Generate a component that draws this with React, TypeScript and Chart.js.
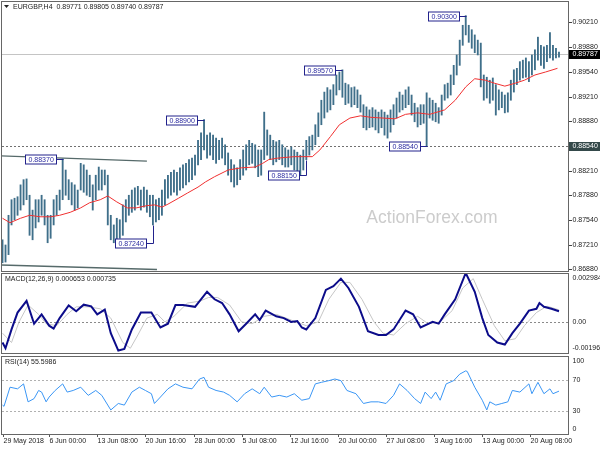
import { useEffect, useRef } from 'react';
import { Chart, registerables } from 'chart.js';

Chart.register(...registerables);

const FAMILY = '"Liberation Sans", Arial, Helvetica, sans-serif';
const SMALL = `7px ${FAMILY}`;

// ---------------- data ----------------
const symbolTitle = 'EURGBP,H4';
const lastBar = [0.89771, 0.89805, 0.8974, 0.89787]; // open high low close

// 8-hour price bars (high / low)
const barHigh = [
  0.8728, 0.8721, 0.8761, 0.8782, 0.8784, 0.8786, 0.8802, 0.8809, 0.881, 0.8788,
  0.8768, 0.8782, 0.8782, 0.8788, 0.8782, 0.8761, 0.8761, 0.8782, 0.8788, 0.8795,
  0.8837, 0.8822, 0.8809, 0.8805, 0.8802, 0.8795, 0.8831, 0.8829, 0.8822, 0.8815,
  0.8802, 0.8815, 0.8826, 0.8822, 0.8822, 0.8815, 0.8761, 0.8748, 0.8757, 0.8755,
  0.8775, 0.8782, 0.8788, 0.8795, 0.8798, 0.88, 0.8795, 0.8799, 0.8795, 0.8788,
  0.8788, 0.8782, 0.8784, 0.8795, 0.8809, 0.8815, 0.8819, 0.8822, 0.8819, 0.8825,
  0.8829, 0.8831, 0.8836, 0.8838, 0.8842, 0.8862, 0.8872, 0.889, 0.8869, 0.8872,
  0.8869, 0.8865, 0.8862, 0.8865, 0.8856, 0.8845, 0.8836, 0.8829, 0.8825, 0.8836,
  0.8849, 0.8856, 0.8862, 0.8858, 0.8856, 0.8849, 0.8849, 0.89, 0.8876, 0.8869,
  0.8862, 0.886, 0.8862, 0.8856, 0.8852, 0.8849, 0.8853, 0.8849, 0.8846, 0.8842,
  0.8849, 0.8862, 0.8867, 0.8869, 0.8883, 0.8899, 0.8916, 0.8927, 0.8933, 0.893,
  0.8937, 0.895, 0.8954, 0.8957, 0.8939, 0.8937, 0.8933, 0.8934, 0.893, 0.8923,
  0.891, 0.8907, 0.8903, 0.8906, 0.8903, 0.89, 0.8903, 0.89, 0.8896, 0.8903,
  0.891, 0.8919, 0.8927, 0.8923, 0.893, 0.8934, 0.8923, 0.8912, 0.8906, 0.891,
  0.891, 0.8926, 0.8919, 0.8916, 0.8912, 0.8906, 0.8923, 0.8937, 0.8939, 0.895,
  0.8963, 0.8977, 0.8997, 0.9017, 0.903, 0.9017, 0.9011, 0.9004, 0.8997, 0.8993,
  0.895, 0.8947, 0.8943, 0.8946, 0.8937, 0.893, 0.8927, 0.8923, 0.8926, 0.8943,
  0.8957, 0.8959, 0.8968, 0.897, 0.8973, 0.8968, 0.8977, 0.8984, 0.9001, 0.899,
  0.8988, 0.899, 0.9007, 0.899, 0.8986, 0.8981,
];
const barLow = [
  0.8697, 0.8698, 0.8708, 0.8748, 0.8755, 0.8761, 0.8768, 0.8775, 0.8782, 0.8734,
  0.8728, 0.8744, 0.8752, 0.8761, 0.8748, 0.8724, 0.873, 0.8748, 0.8761, 0.8768,
  0.8782, 0.8788, 0.8782, 0.8775, 0.8768, 0.8771, 0.8795, 0.8792, 0.8788, 0.8786,
  0.8768, 0.8782, 0.8795, 0.8795, 0.8802, 0.8748, 0.8728, 0.8724, 0.8728, 0.873,
  0.8734, 0.8752, 0.8761, 0.8765, 0.8768, 0.8775, 0.8768, 0.8772, 0.8765, 0.8759,
  0.8748, 0.8752, 0.8755, 0.8761, 0.8775, 0.8784, 0.8788, 0.8792, 0.8788, 0.8795,
  0.8798, 0.8802, 0.8806, 0.8809, 0.8815, 0.8829, 0.8836, 0.8849, 0.8838, 0.8842,
  0.8836, 0.8831, 0.8836, 0.8838, 0.8829, 0.8815, 0.8806, 0.8799, 0.8802, 0.8809,
  0.8815, 0.8822, 0.8829, 0.8831, 0.8825, 0.8813, 0.8815, 0.8836, 0.8842, 0.8836,
  0.8829, 0.8833, 0.8836, 0.8829, 0.8826, 0.8826, 0.8829, 0.8822, 0.8819, 0.8815,
  0.8822, 0.8836, 0.8842, 0.8849, 0.8856, 0.8867, 0.8883, 0.8892, 0.89, 0.8903,
  0.891, 0.8923, 0.893, 0.892, 0.891, 0.8912, 0.8907, 0.891, 0.8906, 0.89,
  0.8879, 0.8876, 0.8879, 0.888, 0.8876, 0.8872, 0.8879, 0.8869, 0.8865, 0.8873,
  0.8883, 0.8892, 0.89, 0.8903, 0.8906, 0.891, 0.8896, 0.8887, 0.888, 0.8883,
  0.8885, 0.8854, 0.8892, 0.8889, 0.8887, 0.8885, 0.8896, 0.8916, 0.8919, 0.8923,
  0.8937, 0.895, 0.8963, 0.899, 0.9004, 0.8994, 0.8986, 0.898, 0.8977, 0.8934,
  0.8916, 0.8919, 0.8912, 0.8916, 0.8896, 0.8903, 0.8906, 0.8899, 0.89, 0.8916,
  0.8927, 0.8937, 0.8943, 0.8946, 0.8947, 0.8941, 0.895, 0.8957, 0.897, 0.8963,
  0.8959, 0.8968, 0.8973, 0.897, 0.8973, 0.8974,
];

// moving average [bar index, price]
const maLine = [
  [0, 0.8757], [5, 0.8751], [12, 0.8757], [18, 0.8761], [25, 0.8759], [32, 0.8759],
  [38, 0.8761], [45, 0.8765], [52, 0.8771], [58, 0.8778], [65, 0.8782], [70, 0.8787],
  [76, 0.8779], [83, 0.8771], [89, 0.8771], [96, 0.8774], [101, 0.8775], [106, 0.8772],
  [110, 0.8776], [117, 0.8784], [123, 0.8791], [130, 0.8799], [135, 0.8806], [141, 0.8813],
  [150, 0.8822], [159, 0.8825], [168, 0.8826], [173, 0.8831], [177, 0.8836], [183, 0.8838],
  [194, 0.884], [200, 0.884], [206, 0.884], [211, 0.8849], [218, 0.8867], [224, 0.8883],
  [231, 0.8892], [238, 0.8895], [245, 0.8893], [253, 0.8892], [261, 0.8891], [268, 0.8897],
  [276, 0.8899], [284, 0.8897], [294, 0.8903], [301, 0.8916], [308, 0.8934], [314, 0.8945],
  [321, 0.8943], [327, 0.8939], [334, 0.8935], [341, 0.8939], [347, 0.8943], [354, 0.895],
  [361, 0.8954], [369, 0.8959],
];

// MACD main line [bar index, value]
const macdMain = [
  [0, -0.00126], [2, -0.00161], [6, -0.00046], [10, 0.00057], [16, 0.00128], [21, -0.00011],
  [26, 0.00046], [31, -0.00023], [34, -0.00041], [38, 0.00023], [44, 0.001], [49, 0.00065],
  [54, 0.00105], [59, 0.00095], [63, 0.00046], [68, 0.00075], [72, -0.00069], [77, -0.00175],
  [81, -0.00165], [86, -0.00046], [92, 0.00057], [99, 0.00057], [105, -0.00034], [110, -0.00011],
  [115, 0.00103], [120, 0.00103], [128, 0.00092], [136, 0.00184], [141, 0.00138], [146, 0.00115],
  [151, 0.00046], [157, -0.00057], [162, -0.00011], [168, 0.00046], [171, 0.00011], [175, 0.00069],
  [182, 0.00034], [187, 0.00023], [192, 0], [196, 0.00005], [199, -0.00034], [202, -0.00046],
  [204, -0.00023], [208, 0.00023], [215, 0.00195], [220, 0.00218], [225, 0.00264], [230, 0.00207],
  [237, 0.00092], [243, -0.00057], [250, -0.0008], [255, -0.0008], [260, -0.00046], [268, 0.00069],
  [273, 0.00046], [278, -0.00034], [286, 0], [290, -0.00011], [294, 0.00046], [301, 0.00138],
  [308, 0.002984], [314, 0.00184], [319, 0.00023], [323, -0.0008], [329, -0.00126], [334, -0.00138],
  [339, -0.00069], [344, -0.00011], [350, 0.00069], [355, 0.0008], [357, 0.00115], [360, 0.00092],
  [365, 0.0008], [370, 0.000653],
];

// MACD signal line [bar index, value]
const macdSignal = [
  [0, -0.00069], [6, -0.00126], [11, 0], [17, 0.00103], [24, 0.00046], [29, -0.00011],
  [36, -0.00023], [43, 0.00046], [49, 0.00092], [57, 0.00092], [65, 0.0008], [72, 0.00023],
  [80, -0.00126], [85, -0.00161], [90, -0.0008], [96, 0.00023], [103, 0.00046], [108, 0],
  [114, 0.00034], [123, 0.00115], [131, 0.00126], [137, 0.00149], [143, 0.00149], [151, 0.00103],
  [159, 0], [166, -0.00011], [174, 0.00034], [182, 0.00046], [192, 0.00011], [202, -0.00023],
  [210, 0], [217, 0.00138], [225, 0.00241], [231, 0.00241], [239, 0.00138], [247, 0],
  [253, -0.00069], [260, -0.0008], [268, -0.00011], [276, 0.00034], [283, -0.00011], [291, 0],
  [299, 0.00069], [306, 0.00207], [313, 0.00264], [319, 0.00138], [327, -0.00023], [334, -0.00115],
  [341, -0.00103], [347, -0.00023], [355, 0.00057], [362, 0.00096], [370, 0.000735],
];

// RSI(14) [bar index, value]
const rsiLine = [
  [0, 37.6], [1, 36], [5, 60.7], [10, 58.6], [14, 65], [17, 41.8], [21, 46], [24, 56.5],
  [26, 54.4], [29, 41.8], [31, 48], [35, 56.5], [40, 65], [43, 54.4], [47, 56.5], [52, 60.7],
  [57, 50.2], [62, 56.5], [66, 50.2], [72, 31.3], [77, 39.7], [81, 37.6], [86, 54.4], [91, 60.7],
  [95, 56.5], [99, 52.3], [101, 39.7], [105, 48], [110, 58.6], [115, 65], [120, 60.7], [126, 58.6],
  [131, 71.3], [134, 73.4], [137, 60.7], [142, 56.5], [147, 54.4], [151, 50.2], [156, 41.8],
  [161, 52.3], [166, 58.6], [171, 52.3], [174, 60.7], [179, 48], [184, 50.2], [189, 48],
  [194, 52.3], [199, 43.9], [204, 46], [208, 65], [212, 67], [217, 69.2], [221, 71.3],
  [225, 69.2], [229, 56.5], [235, 52.3], [240, 39.7], [245, 41.8], [250, 41.8], [255, 39.7],
  [260, 50.2], [264, 65], [269, 56.5], [274, 46], [278, 39.7], [281, 54.4], [285, 46],
  [288, 54.4], [291, 43.9], [295, 65], [300, 69.2], [304, 77.6], [308, 81.8], [309, 81],
  [314, 60.7], [319, 43.9], [322, 31.3], [324, 41.8], [328, 37.6], [332, 39.7], [336, 41.8],
  [339, 56.5], [344, 54.4], [350, 65], [352, 52.3], [356, 67], [360, 52.3], [364, 58.6],
  [366, 52.3], [370, 55.6],
];

const priceTicks = [0.9021, 0.8988, 0.8954, 0.8921, 0.8888, 0.8821, 0.8788, 0.8754, 0.8721, 0.8688];
const macdTicks = [0.002984, 0, -0.00196];
const macdTickText = ['0.002984', '0.00', '-0.00196'];
const rsiTicks = [100, 70, 30, 0];
const rsiLevels = [70, 30];
const dateTickIdx = [0, 31, 63, 95, 127, 159, 191, 223, 255, 287, 319, 351];
const dateTickText = [
  '29 May 2018', '6 Jun 00:00', '13 Jun 08:00', '20 Jun 16:00', '28 Jun 00:00', '5 Jul 08:00',
  '12 Jul 16:00', '20 Jul 00:00', '27 Jul 08:00', '3 Aug 16:00', '13 Aug 00:00', '20 Aug 08:00',
];

// swing labels
const calloutPrice = [0.903, 0.8957, 0.889, 0.8837, 0.8724, 0.8815, 0.8854];
const calloutIdx = [308, 226, 134, 40, 100, 202, 282];
const calloutReach = [0.903, 0.8957, 0.889, 0.8837, 0.8748, 0.8836, 0.8854];
const supportLevel = 0.8854;
const channelUpper = [[-1, 0.8841], [96, 0.8834]];
const channelLower = [[-1, 0.8694], [102.7, 0.8688]];

const macdTitle = 'MACD(12,26,9)';
const macdNow = [0.000653, 0.000735];
const rsiTitle = 'RSI(14)';
const rsiNow = 55.5986;
const watermark = 'ActionForex.com';

// ---------------- helpers ----------------
const X_MIN = -1;
const X_MAX = 376.66;

function baseOptions(yMin: number, yMax: number, padding: any): any {
  return {
    animation: false,
    responsive: false,
    maintainAspectRatio: false,
    events: [],
    layout: { padding },
    plugins: { legend: { display: false }, tooltip: { enabled: false } },
    scales: {
      x: { type: 'linear', min: X_MIN, max: X_MAX, display: false, offset: false },
      y: { type: 'linear', min: yMin, max: yMax, display: false },
    },
  };
}

function drawFrame(chart: any) {
  const { ctx, chartArea: a } = chart;
  ctx.save();
  ctx.strokeStyle = '#666';
  ctx.lineWidth = 1;
  ctx.strokeRect(a.left + 0.5, a.top + 0.5, a.right - a.left - 1, a.bottom - a.top - 1);
  ctx.restore();
}

function hLine(ctx: any, a: any, yy: number, color: string, dash: number[]) {
  const py = Math.round(yy) + 0.5;
  ctx.save();
  ctx.strokeStyle = color;
  ctx.lineWidth = 1;
  ctx.setLineDash(dash);
  ctx.beginPath();
  ctx.moveTo(a.left + 1, py);
  ctx.lineTo(a.right - 1, py);
  ctx.stroke();
  ctx.restore();
}

function clampedLabels(chart: any, values: number[], texts: string[]) {
  const { ctx, chartArea: a, scales } = chart;
  ctx.save();
  ctx.font = SMALL;
  ctx.fillStyle = '#222';
  ctx.textAlign = 'left';
  ctx.textBaseline = 'middle';
  values.forEach((v, i) => {
    let yy = scales.y.getPixelForValue(v);
    yy = Math.min(Math.max(yy, a.top + 5), a.bottom - 6);
    ctx.fillText(texts[i], a.right + 3.5, yy);
  });
  ctx.restore();
}

function panelTitle(chart: any, text: string) {
  const { ctx, chartArea: a } = chart;
  ctx.save();
  ctx.font = SMALL;
  ctx.fillStyle = '#222';
  ctx.textAlign = 'left';
  ctx.textBaseline = 'middle';
  ctx.fillText(text, a.left + 4, a.top + 6);
  ctx.restore();
}

// ---------------- plugins ----------------
const mainPlugin = {
  id: 'mainDecor',
  beforeDatasetsDraw(chart: any) {
    const { ctx, chartArea: a, scales } = chart;
    const x = scales.x;
    const y = scales.y;
    ctx.save();
    ctx.beginPath();
    ctx.rect(a.left, a.top, a.right - a.left, a.bottom - a.top);
    ctx.clip();
    ctx.font = `17.5px ${FAMILY}`;
    ctx.fillStyle = '#cccccc';
    ctx.textAlign = 'center';
    ctx.textBaseline = 'alphabetic';
    ctx.fillText(watermark, 432, 223);
    hLine(ctx, a, y.getPixelForValue(lastBar[3]), '#c4c4c4', []);
    hLine(ctx, a, y.getPixelForValue(supportLevel), '#707070', [2, 2]);
    ctx.strokeStyle = '#566a6a';
    ctx.lineWidth = 1.3;
    [channelUpper, channelLower].forEach((seg) => {
      ctx.beginPath();
      ctx.moveTo(x.getPixelForValue(seg[0][0]), y.getPixelForValue(seg[0][1]));
      ctx.lineTo(x.getPixelForValue(seg[1][0]), y.getPixelForValue(seg[1][1]));
      ctx.stroke();
    });
    ctx.restore();
  },
  afterDatasetsDraw(chart: any) {
    const { ctx, chartArea: a, scales } = chart;
    const x = scales.x;
    const y = scales.y;
    ctx.save();
    ctx.font = SMALL;
    ctx.textBaseline = 'middle';
    ctx.textAlign = 'left';
    // swing callouts
    calloutPrice.forEach((p, j) => {
      const ax = Math.round(x.getPixelForValue(calloutIdx[j])) + 0.5;
      const ly = Math.round(y.getPixelForValue(p)) + 0.5;
      const ry = Math.round(y.getPixelForValue(calloutReach[j])) + 0.5;
      const text = p.toFixed(5);
      const w = Math.round(ctx.measureText(text).width + 6);
      const h = 9;
      const bx = Math.round(ax - 7.5 - w) + 0.5;
      ctx.strokeStyle = '#22228c';
      ctx.lineWidth = 1;
      ctx.beginPath();
      ctx.moveTo(bx + w, ly);
      ctx.lineTo(ax, ly);
      ctx.lineTo(ax, ry);
      ctx.stroke();
      ctx.fillStyle = '#ffffff';
      ctx.fillRect(bx, ly - h / 2, w, h);
      ctx.strokeRect(bx, ly - h / 2, w, h);
      ctx.fillStyle = '#2b2ba0';
      ctx.fillText(text, bx + 3, ly + 0.5);
    });
    ctx.restore();

    drawFrame(chart);

    // right axis
    ctx.save();
    ctx.font = SMALL;
    ctx.textBaseline = 'middle';
    ctx.textAlign = 'left';
    ctx.strokeStyle = '#444';
    ctx.fillStyle = '#222';
    priceTicks.forEach((v) => {
      const yy = Math.round(y.getPixelForValue(v)) + 0.5;
      ctx.beginPath();
      ctx.moveTo(a.right, yy);
      ctx.lineTo(a.right + 3, yy);
      ctx.stroke();
      ctx.fillText(v.toFixed(5), a.right + 3.5, yy);
    });
    const boxes: [number, string][] = [[supportLevel, '#34494a'], [lastBar[3], '#000000']];
    boxes.forEach(([v, bg]) => {
      const yy = Math.round(y.getPixelForValue(v));
      ctx.fillStyle = bg;
      ctx.fillRect(a.right, yy - 4, chart.width - a.right, 9);
      ctx.fillStyle = '#ffffff';
      ctx.fillText(v.toFixed(5), a.right + 3.5, yy + 0.5);
    });

    // title
    ctx.fillStyle = '#222';
    ctx.beginPath();
    ctx.moveTo(a.left + 3, a.top + 4);
    ctx.lineTo(a.left + 8, a.top + 4);
    ctx.lineTo(a.left + 5.5, a.top + 7);
    ctx.closePath();
    ctx.fill();
    ctx.fillText(
      `${symbolTitle}  ${lastBar.map((v) => v.toFixed(5)).join(' ')}`,
      a.left + 12,
      a.top + 6
    );
    ctx.restore();
  },
};

const macdPlugin = {
  id: 'macdDecor',
  beforeDatasetsDraw(chart: any) {
    const { ctx, chartArea: a, scales } = chart;
    hLine(ctx, a, scales.y.getPixelForValue(0), '#8a8a8a', [2, 2]);
  },
  afterDatasetsDraw(chart: any) {
    drawFrame(chart);
    clampedLabels(chart, macdTicks, macdTickText);
    panelTitle(chart, `${macdTitle} ${macdNow[0].toFixed(6)} ${macdNow[1].toFixed(6)}`);
  },
};

const rsiPlugin = {
  id: 'rsiDecor',
  beforeDatasetsDraw(chart: any) {
    const { ctx, chartArea: a, scales } = chart;
    rsiLevels.forEach((lv) => hLine(ctx, a, scales.y.getPixelForValue(lv), '#b0b0b0', [2, 2]));
  },
  afterDatasetsDraw(chart: any) {
    const { ctx, chartArea: a, scales } = chart;
    drawFrame(chart);
    clampedLabels(chart, rsiTicks, rsiTicks.map((v) => String(v)));
    panelTitle(chart, `${rsiTitle} ${rsiNow.toFixed(4)}`);
    ctx.save();
    ctx.font = SMALL;
    ctx.fillStyle = '#222';
    ctx.strokeStyle = '#555';
    ctx.textAlign = 'left';
    ctx.textBaseline = 'middle';
    dateTickIdx.forEach((idx, i) => {
      const px = Math.round(scales.x.getPixelForValue(idx)) + 0.5;
      ctx.beginPath();
      ctx.moveTo(px, a.bottom);
      ctx.lineTo(px, a.bottom + 2);
      ctx.stroke();
      ctx.fillText(dateTickText[i], px, a.bottom + 6);
    });
    ctx.restore();
  },
};

// ---------------- component ----------------
export default function App() {
  const mainRef = useRef<HTMLCanvasElement>(null);
  const macdRef = useRef<HTMLCanvasElement>(null);
  const rsiRef = useRef<HTMLCanvasElement>(null);

  useEffect(() => {
    const bars = barHigh.map((hi, k) => ({ x: k * 2, y: [barLow[k], hi] }));
    const mainChart = new Chart(mainRef.current as HTMLCanvasElement, {
      type: 'bar',
      data: {
        datasets: [
          {
            type: 'line',
            data: maLine.map(([i, v]) => ({ x: i, y: v })),
            borderColor: '#f03030',
            borderWidth: 1,
            pointRadius: 0,
            tension: 0,
            order: 1,
          } as any,
          {
            type: 'bar',
            data: bars,
            backgroundColor: '#3f6f8a',
            barThickness: 1.2,
            order: 2,
          } as any,
        ],
      },
      options: baseOptions(0.86846, 0.90497, { left: 1, right: 31, top: 1, bottom: 0 }),
      plugins: [mainPlugin],
    });

    const macdChart = new Chart(macdRef.current as HTMLCanvasElement, {
      type: 'line',
      data: {
        datasets: [
          {
            data: macdSignal.map(([i, v]) => ({ x: i, y: v })),
            borderColor: '#c6c6c6',
            borderWidth: 1,
            pointRadius: 0,
            tension: 0,
            order: 2,
          },
          {
            data: macdMain.map(([i, v]) => ({ x: i, y: v })),
            borderColor: '#0c0c8a',
            borderWidth: 2,
            pointRadius: 0,
            tension: 0,
            order: 1,
          },
        ],
      },
      options: baseOptions(-0.00196, 0.002984, { left: 1, right: 31, top: 1, bottom: 1 }),
      plugins: [macdPlugin],
    });

    const rsiChart = new Chart(rsiRef.current as HTMLCanvasElement, {
      type: 'line',
      data: {
        datasets: [
          {
            data: rsiLine.map(([i, v]) => ({ x: i, y: v })),
            borderColor: '#3a96f5',
            borderWidth: 1,
            pointRadius: 0,
            tension: 0,
          },
        ],
      },
      options: baseOptions(-1, 101, { left: 1, right: 31, top: 1, bottom: 15 }),
      plugins: [rsiPlugin],
    });

    return () => {
      mainChart.destroy();
      macdChart.destroy();
      rsiChart.destroy();
    };
  }, []);

  return (
    <div style={{ position: 'absolute', left: 0, top: 0, width: 600, height: 450, background: '#fff' }}>
      <canvas ref={mainRef} width={600} height={272} style={{ position: 'absolute', left: 0, top: 0 }} />
      <canvas ref={macdRef} width={600} height={83} style={{ position: 'absolute', left: 0, top: 272 }} />
      <canvas ref={rsiRef} width={600} height={95} style={{ position: 'absolute', left: 0, top: 355 }} />
    </div>
  );
}
